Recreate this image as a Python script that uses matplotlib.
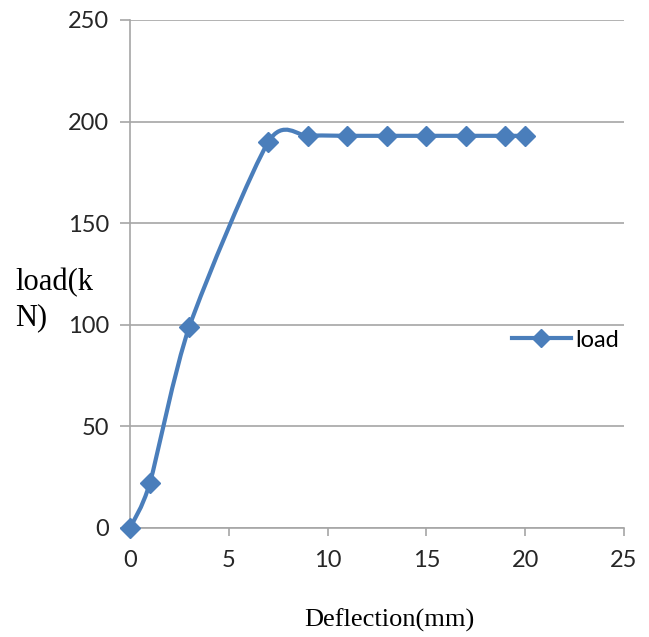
import numpy as np
import matplotlib.pyplot as plt
from matplotlib.path import Path
from matplotlib.patches import PathPatch
from matplotlib.lines import Line2D

# values
deflection = [0, 1, 3, 7, 9, 11, 13, 15, 17, 19, 20]
load = [0, 22, 99, 190, 193, 193, 193, 193, 193, 193, 193]
x_ticks = [0, 5, 10, 15, 20, 25]
y_ticks = [0, 50, 100, 150, 200, 250]

BLUE = "#4A7EBB"
GRID = "#A6A6A6"


def smooth_path(xs, ys, k=1 / 8.0):
    # excel-like smoothed line: cubic bezier, catmull-rom style control points
    pts = np.column_stack([xs, ys]).astype(float)
    verts = [pts[0]]
    codes = [Path.MOVETO]
    n = len(pts)
    for i in range(n - 1):
        p0 = pts[i - 1] if i > 0 else pts[i]
        p1 = pts[i]
        p2 = pts[i + 1]
        p3 = pts[i + 2] if i + 2 < n else pts[i + 1]
        c1 = p1 + (p2 - p0) * k
        c2 = p2 - (p3 - p1) * k
        verts += [c1, c2, p2]
        codes += [Path.CURVE4] * 3
    return Path(verts, codes)


fig = plt.figure(figsize=(6.49, 6.37), dpi=100)
ax = fig.add_axes([130 / 649, 1 - 528 / 637, 494 / 649, 508 / 637])

ax.add_patch(PathPatch(smooth_path(deflection, load), facecolor="none",
                       edgecolor=BLUE, lw=3, capstyle="round", zorder=3))
ax.plot(deflection, load, linestyle="none", marker="D", markersize=10,
        color=BLUE, zorder=4, clip_on=False)

ax.set_xlim(0, 25)
ax.set_ylim(0, 250)
ax.set_xticks(x_ticks)
ax.set_yticks(y_ticks)
ax.grid(axis="y", color=GRID, lw=1.2)
ax.set_axisbelow(True)
for s in ["top", "right"]:
    ax.spines[s].set_visible(False)
for s in ["left", "bottom"]:
    ax.spines[s].set_color(GRID)
    ax.spines[s].set_linewidth(1.2)
ax.tick_params(axis="x", direction="out", length=6, color=GRID, width=1.2,
               pad=10, labelsize=17, labelcolor="#262626")
ax.tick_params(axis="y", direction="out", length=7, color=GRID, width=1.2,
               pad=8, labelsize=17, labelcolor="#262626")
for lab in ax.get_xticklabels() + ax.get_yticklabels():
    lab.set_fontfamily("Lato")

handle = Line2D([], [], color=BLUE, lw=3, marker="D", markersize=9)
leg = ax.legend([handle], ["load"], loc="center left", bbox_to_anchor=(0.73, 0.37),
                frameon=False, handlelength=2.5, handletextpad=0.2,
                prop={"family": "Lato", "size": 17})

fig.text(389 / 649, 1 - 620 / 637, "Deflection(mm)", ha="center", va="center",
         family="Liberation Serif", fontsize=19)
# y label is wrapped in the reference: two separate lines
fig.text(15 / 649, 1 - 290 / 637, "load(k", ha="left", va="baseline",
         family="Liberation Serif", fontsize=22)
fig.text(15 / 649, 1 - 325 / 637, "N)", ha="left", va="baseline",
         family="Liberation Serif", fontsize=22)

fig.savefig("out.png", dpi=100)
